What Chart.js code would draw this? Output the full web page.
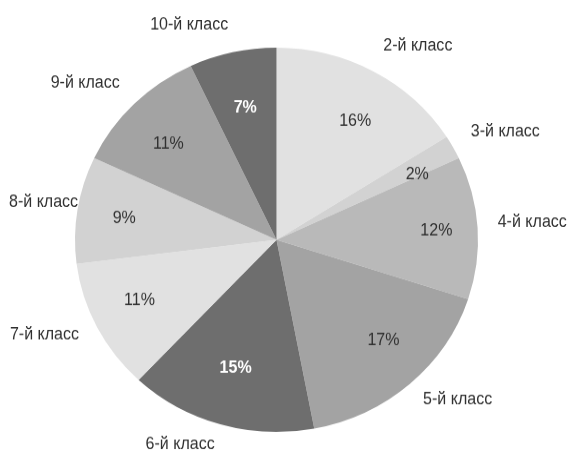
<!DOCTYPE html>
<html><head><meta charset="utf-8">
<script src="https://cdn.jsdelivr.net/npm/chart.js@4/dist/chart.umd.min.js"></script>
<style>
html,body{margin:0;padding:0;background:#fff;overflow:hidden}
#wrap{width:576px;height:472px;transform:scaleY(0.953390);transform-origin:0 0}
canvas{display:block}
</style></head>
<body><div id="wrap"><canvas id="c" width="576" height="472" style="width:576px;height:472px"></canvas></div>
<script>
const categories = ["2-й класс","3-й класс","4-й класс","5-й класс","6-й класс","7-й класс","8-й класс","9-й класс","10-й класс"];
const shares = [16, 2, 12, 17, 15, 11, 9, 11, 7];
const sliceColors = ["#e1e1e1","#d2d2d2","#b9b9b9","#a3a3a3","#6e6e6e","#e1e1e1","#d2d2d2","#a3a3a3","#6e6e6e"];
const pctColors = ["#303030","#303030","#303030","#303030","#ffffff","#303030","#303030","#303030","#ffffff"];

const FONT_FAMILY = '"Liberation Sans",Arial,sans-serif';
const SY = 472/450;   // undo the vertical squeeze for text
const SX = 0.89;      // condensed look

const labelPlugin = {
  id: 'pieLabels',
  afterDatasetsDraw(chart) {
    const ctx = chart.ctx;
    const W = chart.width;
    const meta = chart.getDatasetMeta(0);
    meta.data.forEach((arc, i) => {
      const p = arc.getProps(['x','y','startAngle','endAngle','outerRadius'], true);
      const mid = (p.startAngle + p.endAngle) / 2;
      const R = p.outerRadius;
      const c = Math.cos(mid), s = Math.sin(mid);
      const white = pctColors[i] === '#ffffff';
      ctx.save();
      ctx.font = (white ? 'bold ' : '') + '18px ' + FONT_FAMILY;
      ctx.fillStyle = pctColors[i];
      ctx.textAlign = 'center';
      ctx.textBaseline = 'middle';
      ctx.translate(p.x + 3 + c * R * 0.78, p.y - 1 + s * R * 0.70);
      ctx.scale(SX, SY);
      ctx.fillText(shares[i] + '%', 0, 0);
      ctx.restore();

      ctx.save();
      ctx.font = '18px ' + FONT_FAMILY;
      ctx.fillStyle = '#303030';
      const w = ctx.measureText(categories[i]).width * SX;
      let x = p.x + c * R * 1.1 + Math.sign(c) * w / 2;
      x = Math.max(w / 2 + 9, Math.min(W - w / 2 - 1, x));
      ctx.textAlign = 'center';
      ctx.textBaseline = 'middle';
      ctx.translate(x, p.y - 4 + s * R * 1.13);
      ctx.scale(SX, SY);
      ctx.fillText(categories[i], 0, 0);
      ctx.restore();
    });
  }
};

new Chart(document.getElementById('c'), {
  type: 'pie',
  data: {
    labels: categories,
    datasets: [{
      data: shares,
      backgroundColor: sliceColors,
      borderWidth: 0
    }]
  },
  options: {
    responsive: false,
    animation: false,
    layout: { padding: { top: 50, bottom: 19, left: 50, right: 73 } },
    plugins: { legend: { display: false }, tooltip: { enabled: false } }
  },
  plugins: [labelPlugin]
});
</script>
</body></html>
